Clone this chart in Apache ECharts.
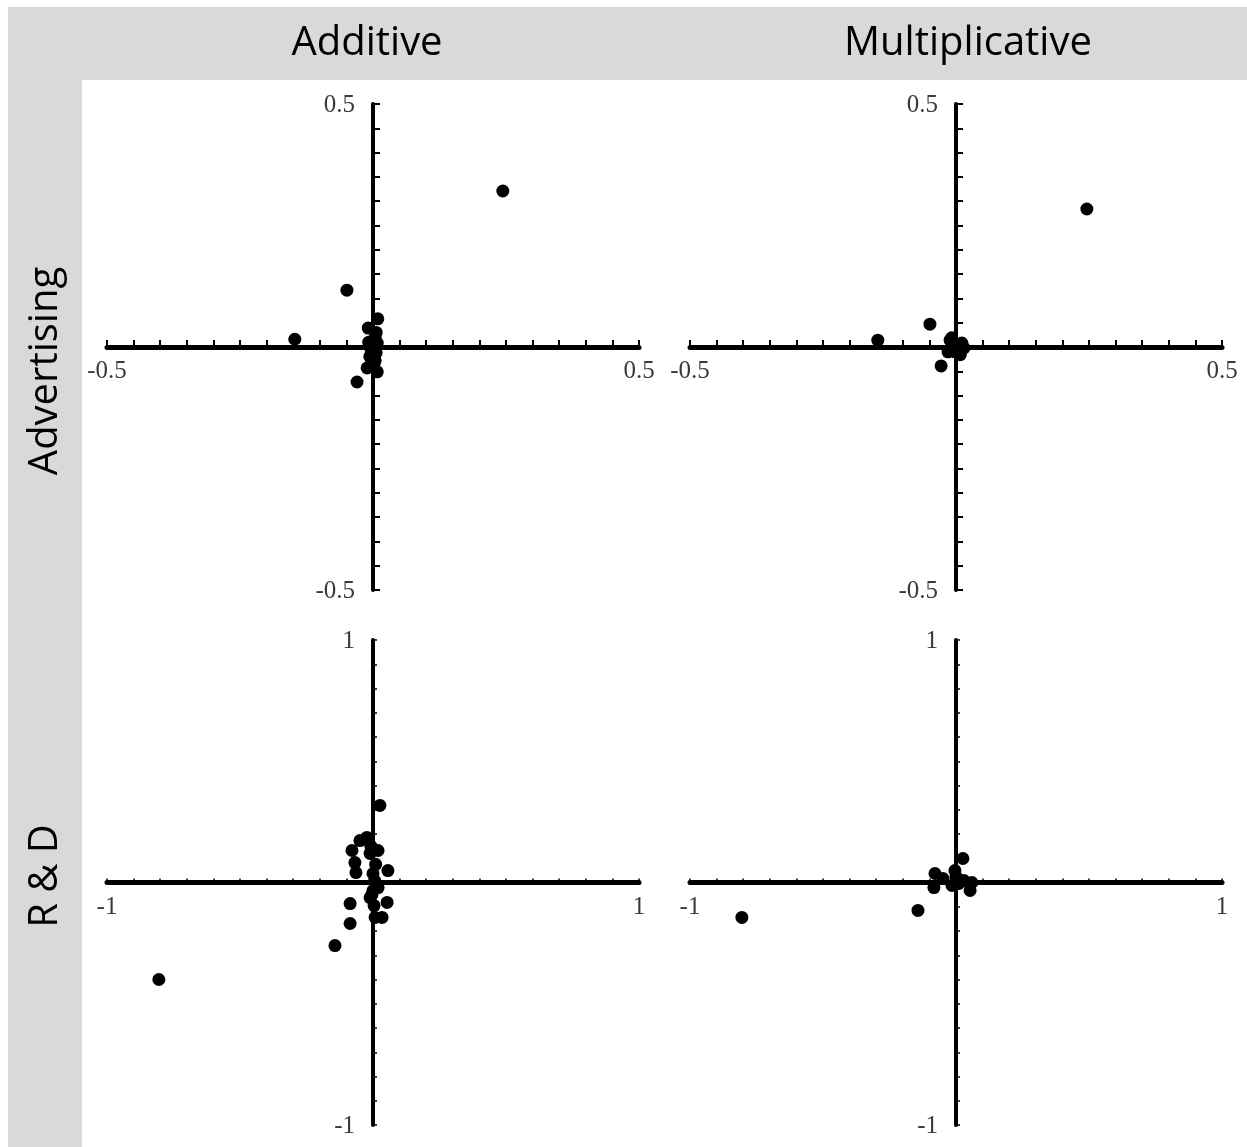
<!DOCTYPE html>
<html>
<head>
<meta charset="utf-8">
<script src="https://cdn.jsdelivr.net/npm/echarts@6/dist/echarts.min.js"></script>
<style>
html,body{margin:0;padding:0;background:#fff;}
#chart{width:1247px;height:1147px;}
</style>
</head>
<body>
<div id="chart"></div>
<script>
// Column and row headers
const columnTitles = ['Additive', 'Multiplicative'];
const rowTitles = ['Advertising', 'R & D'];

// Axis ranges per row (symmetric), tick step
const rowRange = [0.5, 1];
const rowTickStep = [0.05, 0.1];

// Points [x, y] per panel
const advertisingAdditive = [
  [0.244, 0.321], [-0.049, 0.117], [-0.147, 0.016], [0.009, 0.058], [-0.009, 0.039],
  [0.004, 0.020], [0.008, 0.008], [-0.004, -0.004], [0.006, -0.012], [-0.006, -0.020],
  [0.004, -0.028], [-0.011, -0.043], [0.008, -0.051], [-0.030, -0.072], [-0.002, 0.000],
  [0.002, -0.035], [-0.008, 0.010], [0.006, 0.030]
];
const advertisingMultiplicative = [
  [0.246, 0.284], [-0.147, 0.014], [-0.049, 0.047], [-0.028, -0.039],
  [-0.011, 0.014], [0.011, 0.008], [-0.002, -0.010], [-0.015, -0.010],
  [0.008, -0.016], [-0.008, 0.019], [0.015, -0.002], [0.000, 0.000]
];
const rdAdditive = [
  [0.026, 0.318], [-0.023, 0.186], [-0.049, 0.173], [-0.079, 0.132], [-0.068, 0.082],
  [-0.064, 0.041], [0.019, 0.132], [-0.011, 0.120], [0.056, 0.049], [0.000, 0.037],
  [0.000, -0.033], [-0.011, -0.062], [0.019, -0.021], [0.053, -0.082], [-0.086, -0.087],
  [-0.086, -0.169], [0.008, -0.144], [0.034, -0.144], [-0.143, -0.260], [-0.805, -0.400],
  [0.006, 0.008], [-0.004, -0.050], [0.004, -0.095], [-0.008, 0.150], [0.010, 0.075]
];
const rdMultiplicative = [
  [-0.805, -0.144], [-0.143, -0.115], [0.026, 0.099], [-0.079, 0.037], [-0.083, -0.021],
  [-0.004, 0.049], [0.011, -0.004], [0.053, -0.033], [0.060, 0.000], [-0.049, 0.016],
  [-0.015, -0.012], [0.000, 0.025], [0.030, 0.008]
];

const panels = [
  {data: advertisingAdditive, row: 0, col: 0},
  {data: advertisingMultiplicative, row: 0, col: 1},
  {data: rdAdditive, row: 1, col: 0},
  {data: rdMultiplicative, row: 1, col: 1}
];

const gridLefts = [107, 690];
const gridWidth = 532;
const gridTops = [104, 640];
const gridHeights = [486, 485];

const labelFont = '25px "Liberation Serif"';
const labelColor = '#3a3a3a';

const grids = [], xAxes = [], yAxes = [], series = [];
panels.forEach((p, i) => {
  const r = rowRange[p.row];
  const step = rowTickStep[p.row];
  const big = p.row === 0;
  grids.push({left: gridLefts[p.col], width: gridWidth, top: gridTops[p.row], height: gridHeights[p.row], containLabel: false, outerBoundsMode: 'none'});
  xAxes.push({
    type: 'value', gridIndex: i, min: -r, max: r, interval: step,
    splitLine: {show: false},
    axisLine: {onZero: true, lineStyle: {color: '#000', width: 5}},
    axisTick: {show: true, inside: true, length: big ? 7 : 4, lineStyle: {color: '#000', width: big ? 2 : 1.5}},
    axisLabel: {show: false}
  });
  yAxes.push({
    type: 'value', gridIndex: i, min: -r, max: r, interval: step,
    splitLine: {show: false},
    axisLine: {onZero: true, lineStyle: {color: '#000', width: 4}},
    axisTick: {show: true, inside: true, length: big ? 7 : 4, lineStyle: {color: '#000', width: big ? 2 : 1.5}},
    axisLabel: {show: false}
  });
  series.push({
    type: 'scatter', xAxisIndex: i, yAxisIndex: i, data: p.data,
    symbolSize: 13, itemStyle: {color: '#000', opacity: 1}, silent: true, z: 5
  });
});

const chart = echarts.init(document.getElementById('chart'), null, {renderer: 'canvas'});
chart.setOption({
  animation: false,
  backgroundColor: '#fff',
  grid: grids,
  xAxis: xAxes,
  yAxis: yAxes,
  series: series
});

const headerFont = '40px "Open Sans"';
const graphics = [
  {type: 'rect', shape: {x: 8, y: 7, width: 1239, height: 73}, style: {fill: '#d9d9d9'}, z: -10},
  {type: 'rect', shape: {x: 8, y: 7, width: 74, height: 1140}, style: {fill: '#d9d9d9'}, z: -10},
  {type: 'text', x: 367, y: 44, style: {text: columnTitles[0], font: headerFont, fill: '#000', textAlign: 'center', textVerticalAlign: 'middle'}},
  {type: 'text', x: 968, y: 44, style: {text: columnTitles[1], font: headerFont, fill: '#000', textAlign: 'center', textVerticalAlign: 'middle'}},
  {type: 'text', x: 46, y: 371, rotation: Math.PI / 2, style: {text: rowTitles[0], font: headerFont, fill: '#000', textAlign: 'center', textVerticalAlign: 'middle'}},
  {type: 'text', x: 46, y: 876, rotation: Math.PI / 2, style: {text: rowTitles[1], font: headerFont, fill: '#000', textAlign: 'center', textVerticalAlign: 'middle'}}
];

// End labels of each axis, placed through the chart's own coordinate conversion
panels.forEach((p, i) => {
  const r = rowRange[p.row];
  const fmt = v => String(v);
  [-r, r].forEach(v => {
    const px = chart.convertToPixel({gridIndex: i}, [v, 0]);
    graphics.push({type: 'text', x: px[0], y: px[1] + 12, silent: true,
      style: {text: fmt(v), font: labelFont, fill: labelColor, textAlign: 'center', textVerticalAlign: 'top'}});
    const py = chart.convertToPixel({gridIndex: i}, [0, v]);
    graphics.push({type: 'text', x: py[0] - 18, y: py[1] + 1, silent: true,
      style: {text: fmt(v), font: labelFont, fill: labelColor, textAlign: 'right', textVerticalAlign: 'middle'}});
  });
});

chart.setOption({graphic: graphics});
</script>
</body>
</html>
